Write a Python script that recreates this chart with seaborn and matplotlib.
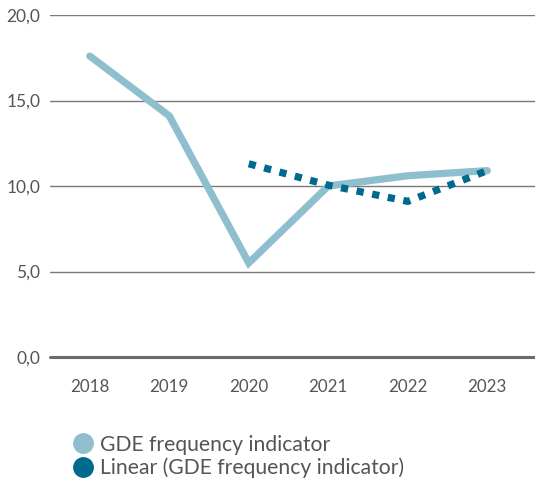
import matplotlib
matplotlib.use("Agg")
import matplotlib.pyplot as plt
import seaborn as sns
import pandas as pd
import numpy as np
from matplotlib.lines import Line2D
from matplotlib.ticker import FuncFormatter


# Values
years = [2018, 2019, 2020, 2021, 2022, 2023]
gdeValues = [17.6, 14.1, 5.5, 10.0, 10.6, 10.9]
linearYears = [2020, 2021, 2022, 2023]
linearValues = [11.3, 10.05, 9.1, 10.9]
yTicks = [0, 5, 10, 15, 20]

lightBlue = "#8fbfce"
darkBlue = "#006a8e"
textGray = "#555555"

sns.set_style("white")
plt.rcParams['font.family'] = ['Lato', 'DejaVu Sans']

dfGde = pd.DataFrame({"year": years, "value": gdeValues})
dfLinear = pd.DataFrame({"year": linearYears, "value": linearValues})

fig = plt.figure(figsize=(5.35, 4.88), dpi=100)
ax = fig.add_axes([50/535, 1 - 357/488, 485/535, (357 - 15)/488])

sns.lineplot(data=dfGde, x="year", y="value", ax=ax, color=lightBlue,
             linewidth=5.2, solid_capstyle="round", solid_joinstyle="miter")
sns.lineplot(data=dfLinear, x="year", y="value", ax=ax, color=darkBlue,
             linewidth=5.2, dashes=False)
ax.lines[-1].set_dashes((1.0, 1.2))
ax.lines[-1].set_dash_capstyle("butt")

ax.set_ylim(0, 20)
ax.set_xlim(2017.5, 2023.6)
ax.set_yticks(yTicks)
ax.yaxis.set_major_formatter(FuncFormatter(lambda v, p: f"{v:.1f}".replace(".", ",")))
ax.set_xticks(years)
ax.set_xticks([y + 0.5 for y in years[:-1]], minor=True)

for v in yTicks[1:]:
    ax.axhline(v, color="#7a7a7a", linewidth=1.0, zorder=0)
ax.axhline(0, color="#6b6b6b", linewidth=2.2, zorder=1, clip_on=False)

for s in ax.spines.values():
    s.set_visible(False)

ax.tick_params(axis="y", length=0, pad=7, labelsize=12.5, labelcolor=textGray)
ax.tick_params(axis="x", which="major", length=0, pad=16, labelsize=12.2, labelcolor=textGray)
ax.tick_params(axis="x", which="minor", direction="in", length=6, color="#dddddd", width=1)
ax.set_xlabel("")
ax.set_ylabel("")

handles = [
    Line2D([], [], linestyle="none", marker="o", markersize=14, color=lightBlue),
    Line2D([], [], linestyle="none", marker="o", markersize=14, color=darkBlue),
]
labels = ["GDE frequency indicator", "Linear (GDE frequency indicator)"]
leg = fig.legend(handles, labels, loc="upper left", bbox_to_anchor=(60/535, 1 - 424/488),
                 frameon=False, fontsize=15.2, handletextpad=0.2, labelspacing=0.15,
                 borderpad=0, handlelength=1.2)
for t in leg.get_texts():
    t.set_color(textGray)

fig.savefig("out.png", dpi=100)
